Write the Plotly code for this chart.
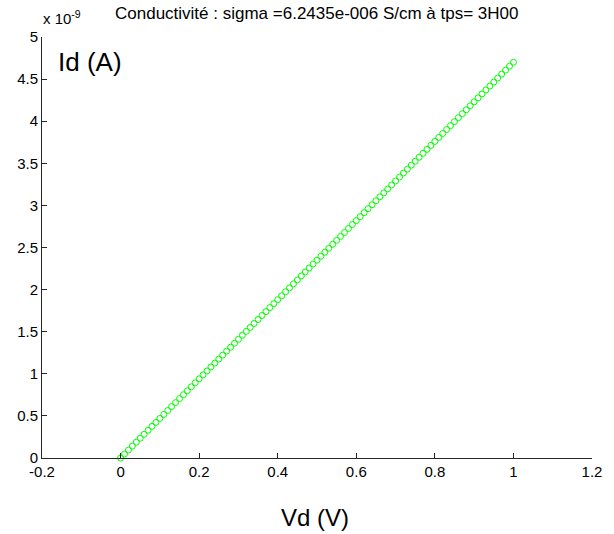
import plotly.graph_objects as go

# Vd (V)
vd = [0.00, 0.01, 0.02, 0.03, 0.04, 0.05, 0.06, 0.07, 0.08, 0.09,
      0.10, 0.11, 0.12, 0.13, 0.14, 0.15, 0.16, 0.17, 0.18, 0.19,
      0.20, 0.21, 0.22, 0.23, 0.24, 0.25, 0.26, 0.27, 0.28, 0.29,
      0.30, 0.31, 0.32, 0.33, 0.34, 0.35, 0.36, 0.37, 0.38, 0.39,
      0.40, 0.41, 0.42, 0.43, 0.44, 0.45, 0.46, 0.47, 0.48, 0.49,
      0.50, 0.51, 0.52, 0.53, 0.54, 0.55, 0.56, 0.57, 0.58, 0.59,
      0.60, 0.61, 0.62, 0.63, 0.64, 0.65, 0.66, 0.67, 0.68, 0.69,
      0.70, 0.71, 0.72, 0.73, 0.74, 0.75, 0.76, 0.77, 0.78, 0.79,
      0.80, 0.81, 0.82, 0.83, 0.84, 0.85, 0.86, 0.87, 0.88, 0.89,
      0.90, 0.91, 0.92, 0.93, 0.94, 0.95, 0.96, 0.97, 0.98, 0.99,
      1.00]

# Id in units of 1e-9 A
id_na = [0.000, 0.047, 0.094, 0.141, 0.188, 0.235, 0.282, 0.329, 0.376, 0.423,
         0.470, 0.517, 0.564, 0.611, 0.658, 0.705, 0.752, 0.799, 0.846, 0.893,
         0.940, 0.987, 1.034, 1.081, 1.128, 1.175, 1.222, 1.269, 1.316, 1.363,
         1.410, 1.457, 1.504, 1.551, 1.598, 1.645, 1.692, 1.739, 1.786, 1.833,
         1.880, 1.927, 1.974, 2.021, 2.068, 2.115, 2.162, 2.209, 2.256, 2.303,
         2.350, 2.397, 2.444, 2.491, 2.538, 2.585, 2.632, 2.679, 2.726, 2.773,
         2.820, 2.867, 2.914, 2.961, 3.008, 3.055, 3.102, 3.149, 3.196, 3.243,
         3.290, 3.337, 3.384, 3.431, 3.478, 3.525, 3.572, 3.619, 3.666, 3.713,
         3.760, 3.807, 3.854, 3.901, 3.948, 3.995, 4.042, 4.089, 4.136, 4.183,
         4.230, 4.277, 4.324, 4.371, 4.418, 4.465, 4.512, 4.559, 4.606, 4.653,
         4.700]

x_tickvals = [-0.2, 0, 0.2, 0.4, 0.6, 0.8, 1.0, 1.2]
x_ticktext = ["-0.2", "0", "0.2", "0.4", "0.6", "0.8", "1", "1.2"]
y_tickvals = [0, 0.5, 1, 1.5, 2, 2.5, 3, 3.5, 4, 4.5, 5]
y_ticktext = ["0", "0.5", "1", "1.5", "2", "2.5", "3", "3.5", "4", "4.5", "5"]

title_text = "Conductivité : sigma =6.2435e-006 S/cm à tps= 3H00"
x_label = "Vd (V)"
y_label = "Id (A)"
y_exponent = "x 10<sup>-9</sup>"

FONT = "Liberation Sans, Arial, sans-serif"

fig = go.Figure()
fig.add_trace(go.Scatter(
    x=vd, y=id_na, mode="markers",
    marker=dict(symbol="circle-open", size=6, color="#00ff00",
                line=dict(width=1, color="#00ff00")),
    cliponaxis=False, showlegend=False, hoverinfo="skip",
))

axis_common = dict(
    showline=True, linecolor="#262626", linewidth=1,
    ticks="inside", ticklen=5, tickwidth=1, tickcolor="#262626",
    showgrid=False, zeroline=False, mirror=False,
    tickfont=dict(family=FONT, size=15, color="#000000"),
)

fig.update_layout(
    width=614, height=534,
    margin=dict(l=42, r=12, t=37, b=76),
    paper_bgcolor="white", plot_bgcolor="white",
    font=dict(family=FONT, color="#000000"),
    xaxis=dict(range=[-0.2, 1.2], tickmode="array",
               tickvals=x_tickvals, ticktext=x_ticktext, **axis_common),
    yaxis=dict(range=[0, 5], tickmode="array",
               tickvals=y_tickvals, ticktext=y_ticktext, **axis_common),
    annotations=[
        dict(text=title_text, xref="paper", yref="paper", x=0.5, y=1.0,
             xshift=0, yshift=24, xanchor="center", yanchor="middle",
             showarrow=False, font=dict(family=FONT, size=17)),
        dict(text=y_exponent, xref="paper", yref="paper", x=0, y=1.0,
             xshift=-1, yshift=20, xanchor="left", yanchor="middle",
             showarrow=False, font=dict(family=FONT, size=15)),
        dict(text=y_label, xref="paper", yref="paper", x=0, y=1.0,
             xshift=14, yshift=-25, xanchor="left", yanchor="middle",
             showarrow=False, font=dict(family=FONT, size=26)),
        dict(text=x_label, xref="paper", yref="paper", x=0.5, y=0,
             xshift=-2, yshift=-59, xanchor="center", yanchor="middle",
             showarrow=False, font=dict(family=FONT, size=24)),
    ],
)

fig.write_html("out.html",
               config={"displayModeBar": False},
               post_script="document.body.style.margin='0';document.body.style.overflow='hidden';")
